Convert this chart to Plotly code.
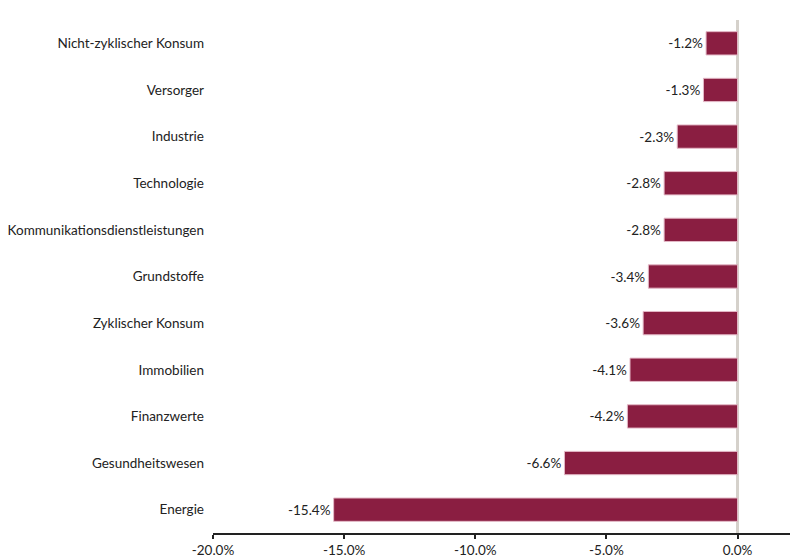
import plotly.graph_objects as go

# Sector returns (%)
sectors = [
    "Nicht-zyklischer Konsum",
    "Versorger",
    "Industrie",
    "Technologie",
    "Kommunikationsdienstleistungen",
    "Grundstoffe",
    "Zyklischer Konsum",
    "Immobilien",
    "Finanzwerte",
    "Gesundheitswesen",
    "Energie",
]
returns = [-1.2, -1.3, -2.3, -2.8, -2.8, -3.4, -3.6, -4.1, -4.2, -6.6, -15.4]
tick_vals = [-20, -15, -10, -5, 0]
tick_text = ["-20.0%", "-15.0%", "-10.0%", "-5.0%", "0.0%"]

fig = go.Figure()

fig.add_trace(go.Bar(
    y=sectors,
    x=returns,
    orientation="h",
    marker=dict(color="#8a1e41", line=dict(color="#e3b8c6", width=1)),
    text=[f"{v:.1f}%" for v in returns],
    textposition="outside",
    textfont=dict(size=13.5, color="#222222"),
    cliponaxis=False,
))

# page body adds an 8px offset, so the figure is sized to fit the window
fig.update_layout(
    width=793,
    height=552,
    margin=dict(l=205, r=11, t=12, b=27),
    plot_bgcolor="white",
    paper_bgcolor="white",
    bargap=0.5,
    showlegend=False,
    font=dict(family="Lato, 'Noto Sans', sans-serif", size=13.5, color="#222222"),
)

fig.update_xaxes(
    range=[-20, 2],
    tickvals=tick_vals,
    ticktext=tick_text,
    showgrid=False,
    showline=True,
    linecolor="#222222",
    linewidth=2,
    ticks="outside",
    ticklen=4,
    tickwidth=2,
    tickcolor="#222222",
    zeroline=True,
    zerolinecolor="#d5d1cb",
    zerolinewidth=3,
    automargin=False,
)

fig.update_yaxes(
    categoryorder="array",
    categoryarray=sectors[::-1],
    showgrid=False,
    showline=False,
    ticks="",
    ticklabelstandoff=8,
    automargin=False,
)

fig.write_html("out.html")
